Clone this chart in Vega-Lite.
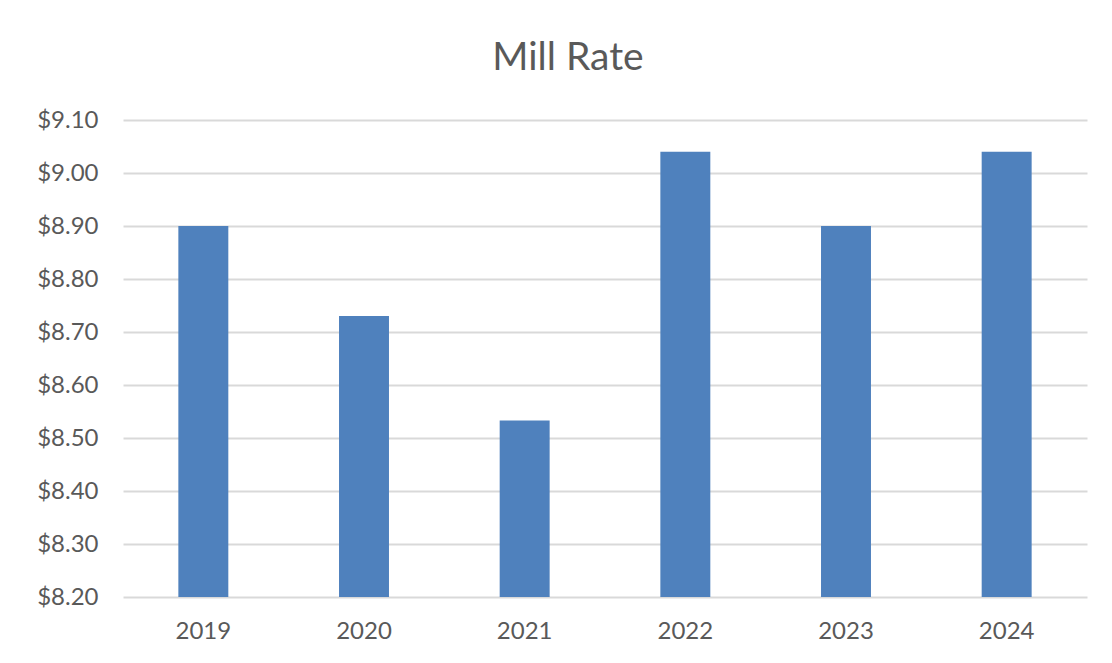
{
  "$schema": "https://vega.github.io/schema/vega-lite/v6.json",
  "autosize": "none",
  "width": 964,
  "height": 477,
  "padding": {"left": 123, "top": 120, "right": 25, "bottom": 66},
  "background": "white",
  "title": {
    "text": "Mill Rate",
    "font": "Lato",
    "fontSize": 39,
    "fontWeight": "normal",
    "color": "#595959",
    "anchor": "middle",
    "dx": -37,
    "offset": 30
  },
  "data": {
    "values": [
      {"year": "2019", "rate": 8.90},
      {"year": "2020", "rate": 8.73},
      {"year": "2021", "rate": 8.533},
      {"year": "2022", "rate": 9.04},
      {"year": "2023", "rate": 8.90},
      {"year": "2024", "rate": 9.04}
    ]
  },
  "mark": {"type": "bar", "color": "#4f81bd", "clip": true},
  "encoding": {
    "x": {
      "field": "year",
      "type": "ordinal",
      "scale": {"paddingInner": 0.689, "paddingOuter": 0.3445},
      "axis": {
        "title": null,
        "labelAngle": 0,
        "domain": false,
        "ticks": false,
        "labelPadding": 22,
        "labelFont": "Lato",
        "labelFontSize": 24,
        "labelColor": "#595959"
      }
    },
    "y": {
      "field": "rate",
      "type": "quantitative",
      "scale": {"domain": [8.2, 9.1], "zero": false, "nice": false},
      "axis": {
        "title": null,
        "format": "$.2f",
        "values": [8.2, 8.3, 8.4, 8.5, 8.6, 8.7, 8.8, 8.9, 9.0, 9.1],
        "domain": false,
        "ticks": false,
        "labelPadding": 25,
        "labelFont": "Lato",
        "labelFontSize": 24,
        "labelColor": "#595959",
        "gridColor": "#d9d9d9",
        "gridWidth": 1.8
      }
    }
  },
  "config": {"view": {"stroke": null}}
}
